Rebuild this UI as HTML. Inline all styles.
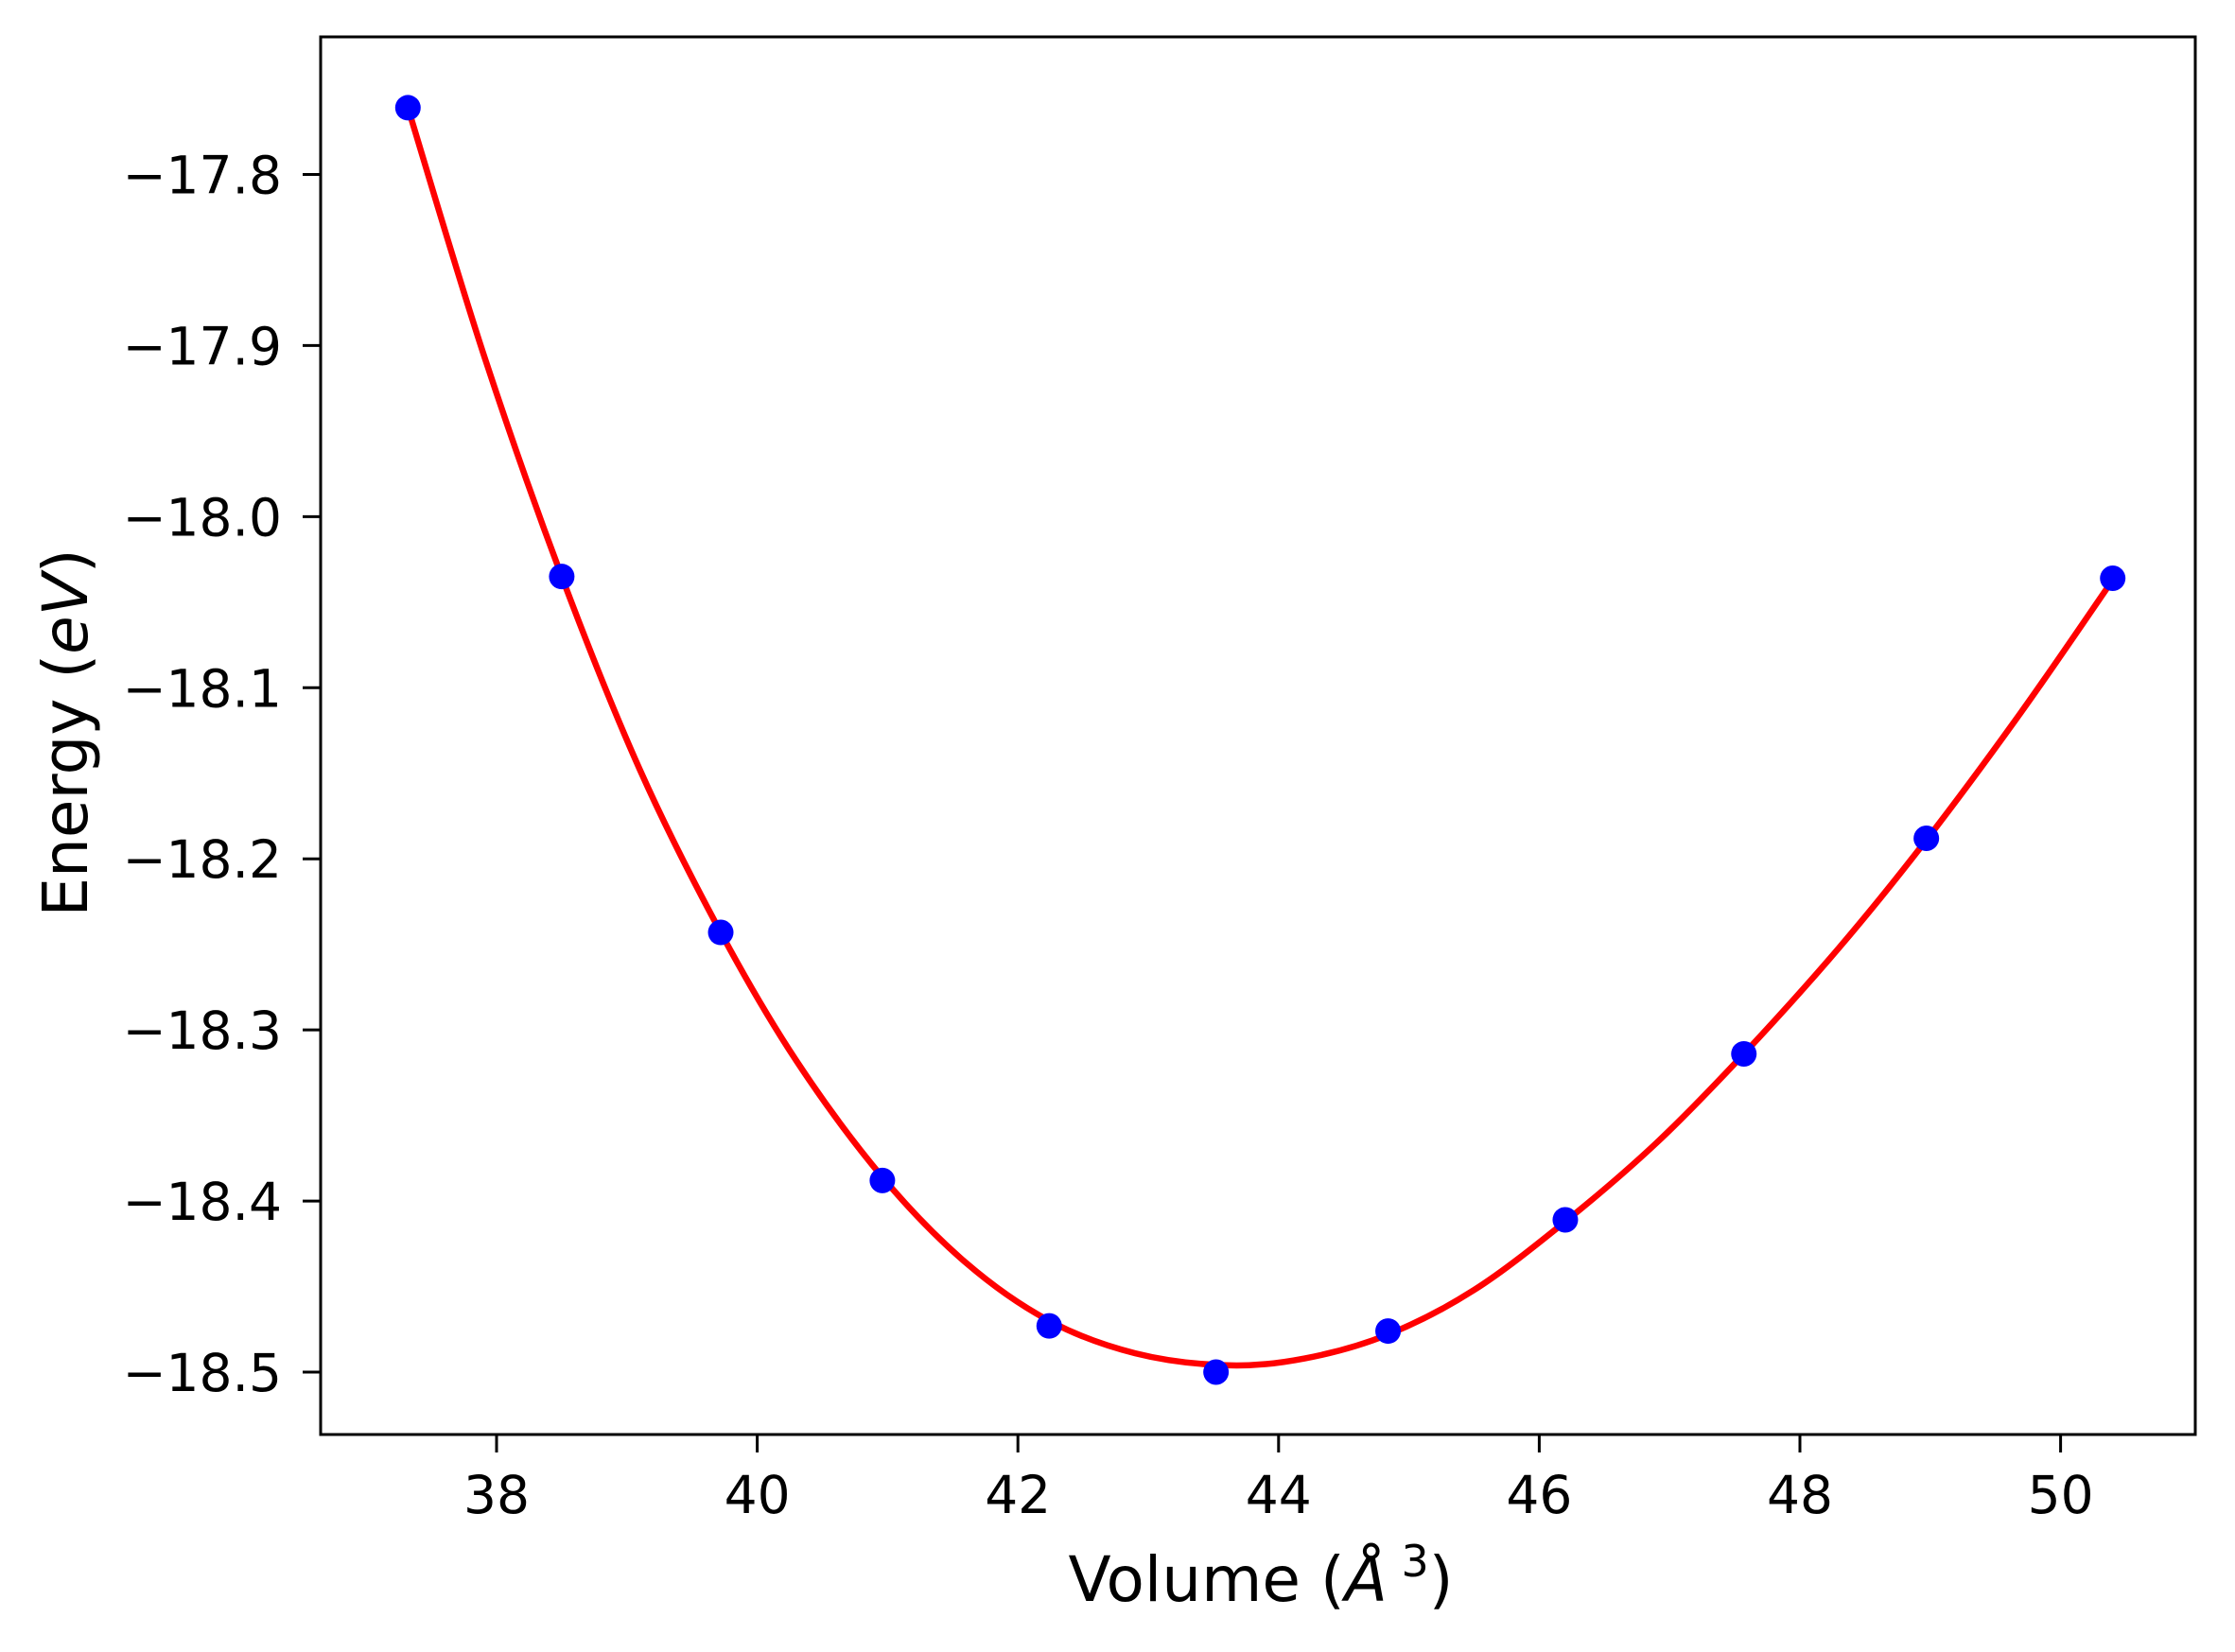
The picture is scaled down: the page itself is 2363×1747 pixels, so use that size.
<!DOCTYPE html>
<html><head><meta charset="utf-8"><style>
html,body{margin:0;padding:0;background:#fff;}
svg{display:block;font-family:"DejaVu Sans","Liberation Sans",sans-serif;}
</style></head><body>
<svg id="chart" width="2363" height="1747" viewBox="0 0 2363 1747" xmlns="http://www.w3.org/2000/svg">
<rect x="0" y="0" width="2363" height="1747" fill="#fff"/>
<g id="plot"></g>
<rect x="339" y="39" width="1982" height="1478" fill="none" stroke="#000" stroke-width="3"/>
<text x="1333" y="1693" font-size="66" text-anchor="middle">Volume (<tspan font-style="italic">Å</tspan><tspan font-size="46" dy="-26"> 3</tspan><tspan dy="26">)</tspan></text>
<text transform="translate(92,775) rotate(-90)" font-size="66" text-anchor="middle">Energy (<tspan font-style="italic">eV</tspan>)</text>
</svg>
<script>
const dataVolume = [37.32, 38.50, 39.72, 40.96, 42.24, 43.52, 44.84, 46.20, 47.57, 48.97, 50.40];
const dataEnergy = [-17.761, -18.035, -18.243, -18.388, -18.473, -18.500, -18.476, -18.411, -18.314, -18.188, -18.036];
const fitVolume = [37.32, 37.9, 38.50, 39.1, 39.72, 40.3, 40.96, 41.6, 42.24, 42.9, 43.6, 44.2, 44.84, 45.5, 46.20, 46.9, 47.57, 48.3, 48.97, 49.7, 50.40];
const fitEnergy = [-17.761, -17.905, -18.035, -18.148, -18.243, -18.318, -18.386, -18.436, -18.470, -18.489, -18.496, -18.492, -18.478, -18.452, -18.412, -18.366, -18.314, -18.252, -18.189, -18.114, -18.037];
const xTicks = [38, 40, 42, 44, 46, 48, 50];
const yTicks = [-17.8, -17.9, -18.0, -18.1, -18.2, -18.3, -18.4, -18.5];
const yTickLabels = ["\u221217.8", "\u221217.9", "\u221218.0", "\u221218.1", "\u221218.2", "\u221218.3", "\u221218.4", "\u221218.5"];

const NS = "http://www.w3.org/2000/svg";
function xs(v){ return 525 + (v - 38) * 137.8; }
function ys(v){ return 184.5 + (-17.8 - v) * 1809.3; }
const plot = document.getElementById('plot');
function mk(tag, attrs){ const e = document.createElementNS(NS, tag); for (const k in attrs) e.setAttribute(k, attrs[k]); plot.appendChild(e); return e; }

xTicks.forEach(t => {
  const l = mk('line', {x1: xs(t), x2: xs(t), y1: 1517, y2: 1536, stroke: '#000', 'stroke-width': 3});
  
  
  const tx = mk('text', {x: xs(t), y: 1600, 'font-size': 55, 'text-anchor': 'middle'});
  tx.textContent = String(t);
  
  
});
yTicks.forEach((t, i) => {
  const l = mk('line', {x1: 320, x2: 339, y1: ys(t), y2: ys(t), stroke: '#000', 'stroke-width': 3});
  
  
  const tx = mk('text', {x: 298, y: ys(t) + 20, 'font-size': 55, 'text-anchor': 'end'});
  tx.textContent = yTickLabels[i];
  
  
});

const P = fitVolume.map((v, i) => [xs(v), ys(fitEnergy[i])]);
let d = 'M' + P[0][0] + ',' + P[0][1];
for (let i = 0; i < P.length - 1; i++) {
  const p0 = P[Math.max(0, i - 1)], p1 = P[i], p2 = P[i + 1], p3 = P[Math.min(P.length - 1, i + 2)];
  const c1 = [p1[0] + (p2[0] - p0[0]) / 6, p1[1] + (p2[1] - p0[1]) / 6];
  const c2 = [p2[0] - (p3[0] - p1[0]) / 6, p2[1] - (p3[1] - p1[1]) / 6];
  d += ' C' + c1[0] + ',' + c1[1] + ' ' + c2[0] + ',' + c2[1] + ' ' + p2[0] + ',' + p2[1];
}
const curve = mk('path', {d: d, fill: 'none', stroke: '#ff0000', 'stroke-width': 6.5});



dataVolume.forEach((v, i) => {
  const c = mk('circle', {cx: xs(v), cy: ys(dataEnergy[i]), r: 13.5, fill: '#0000ff'});
  
  
});
</script>
</body></html>
